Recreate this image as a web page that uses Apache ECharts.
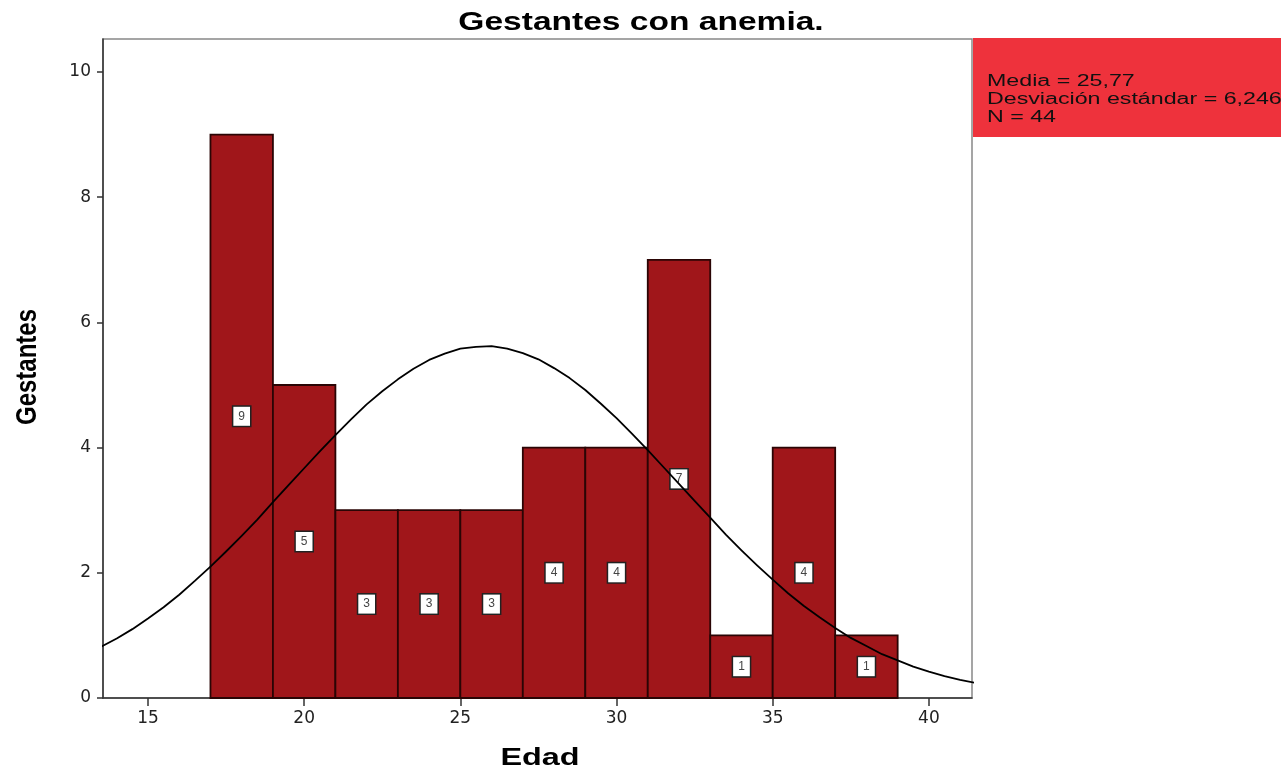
<!DOCTYPE html>
<html>
<head>
<meta charset="utf-8">
<script src="https://cdn.jsdelivr.net/npm/echarts@6/dist/echarts.min.js"></script>
<style>
  html, body { margin: 0; padding: 0; background: #fff; }
  #chart { width: 1281px; height: 771px; }
</style>
</head>
<body>
<div id="chart"></div>
<script>
// histogram bins (start of each bin, width 2 years)
const binStart = [17, 19, 21, 23, 25, 27, 29, 31, 33, 35, 37];
const counts = [9, 5, 3, 3, 3, 4, 4, 7, 1, 4, 1];
const binWidth = 2;

// normal curve, every half year
const curveX = [13.5, 14, 14.5, 15, 15.5, 16, 16.5, 17, 17.5, 18, 18.5, 19, 19.5, 20, 20.5, 21, 21.5, 22, 22.5, 23, 23.5, 24, 24.5, 25, 25.5, 26, 26.5, 27, 27.5, 28, 28.5, 29, 29.5, 30, 30.5, 31, 31.5, 32, 32.5, 33, 33.5, 34, 34.5, 35, 35.5, 36, 36.5, 37, 37.5, 38, 38.5, 39, 39.5, 40, 40.5, 41, 41.5];
const curveY = [0.82, 0.95, 1.10, 1.27, 1.45, 1.65, 1.87, 2.10, 2.34, 2.59, 2.85, 3.13, 3.40, 3.67, 3.94, 4.20, 4.45, 4.69, 4.90, 5.09, 5.26, 5.40, 5.50, 5.58, 5.61, 5.62, 5.58, 5.51, 5.41, 5.27, 5.11, 4.92, 4.70, 4.47, 4.22, 3.96, 3.69, 3.42, 3.15, 2.88, 2.61, 2.36, 2.12, 1.89, 1.67, 1.47, 1.29, 1.12, 0.96, 0.83, 0.70, 0.60, 0.50, 0.42, 0.35, 0.29, 0.24];

const xTicks = [15, 20, 25, 30, 35, 40];
const yTicks = [0, 2, 4, 6, 8, 10];
const titleText = 'Gestantes con anemia.';
const xName = 'Edad';
const yName = 'Gestantes';
const statsLines = ['Media = 25,77', 'Desviación estándar = 6,246', 'N = 44'];

const chart = echarts.init(document.getElementById('chart'));

const font = 'Liberation Sans, Arial, sans-serif';
const tickFont = 'DejaVu Sans, sans-serif';

const option = {
  animation: false,
  backgroundColor: '#fff',
  grid: {
    left: 103,
    right: 309,
    top: 39,
    bottom: 73,
    outerBoundsMode: 'none',
    show: true,
    borderColor: '#888',
    borderWidth: 1.5,
    backgroundColor: '#fff'
  },
  xAxis: {
    type: 'value',
    min: 13.56,
    max: 41.38,
    splitLine: { show: false },
    axisLine: { show: true, lineStyle: { color: '#333', width: 1.5 } },
    axisTick: { show: true, customValues: xTicks, length: 8, lineStyle: { color: '#333', width: 1.5 } },
    axisLabel: { customValues: xTicks, fontFamily: tickFont, fontSize: 17, color: '#222', margin: 12 }
  },
  yAxis: {
    type: 'value',
    min: 0,
    max: 10.527,
    splitLine: { show: false },
    axisLine: { show: true, lineStyle: { color: '#333', width: 1.5 } },
    axisTick: { show: true, customValues: yTicks, length: 6, lineStyle: { color: '#333', width: 1.5 } },
    axisLabel: { customValues: yTicks, fontFamily: tickFont, fontSize: 17, color: '#222', margin: 12 }
  },
  series: [
    {
      type: 'custom',
      data: binStart.map((s, i) => [s, counts[i]]),
      z: 2,
      renderItem: function (params, api) {
        const x0 = api.value(0);
        const cnt = api.value(1);
        const p0 = api.coord([x0, 0]);
        const p1 = api.coord([x0 + binWidth, cnt]);
        return {
          type: 'rect',
          shape: { x: p0[0], y: p1[1], width: p1[0] - p0[0], height: p0[1] - p1[1] },
          style: { fill: '#a0161a', stroke: '#2a0505', lineWidth: 1.8 },
          textContent: {
            style: {
              text: String(cnt),
              fontFamily: font,
              fontSize: 12,
              fill: '#444',
              backgroundColor: '#fff',
              borderColor: '#222',
              borderWidth: 1.5,
              padding: [4, 5, 3, 5]
            }
          },
          textConfig: { position: 'inside' }
        };
      }
    },
    {
      type: 'line',
      data: curveX.map((x, i) => [x, curveY[i]]),
      smooth: false,
      showSymbol: false,
      z: 3,
      lineStyle: { color: '#000', width: 1.8, join: 'round' }
    }
  ],
  graphic: [
    {
      type: 'text',
      x: 641,
      y: 23,
      scaleX: 1.29,
      style: {
        text: titleText,
        align: 'center',
        verticalAlign: 'middle',
        fontFamily: font,
        fontWeight: 'bold',
        fontSize: 26,
        fill: '#000'
      }
    },
    {
      type: 'text',
      x: 540,
      y: 758,
      scaleX: 1.35,
      style: {
        text: xName,
        align: 'center',
        verticalAlign: 'middle',
        fontFamily: font,
        fontWeight: 'bold',
        fontSize: 24,
        fill: '#000'
      }
    },
    {
      type: 'text',
      x: 28,
      y: 367,
      rotation: Math.PI / 2,
      scaleY: 1.2,
      style: {
        text: yName,
        align: 'center',
        verticalAlign: 'middle',
        fontFamily: font,
        fontWeight: 'bold',
        fontSize: 24,
        fill: '#000'
      }
    },
    {
      type: 'rect',
      left: 973,
      top: 38,
      shape: { width: 308, height: 99 },
      style: { fill: '#ee323c' }
    },
    {
      type: 'text',
      x: 987,
      y: 73,
      scaleX: 1.45,
      style: {
        text: statsLines.join('\n'),
        fontFamily: font,
        fontSize: 16,
        lineHeight: 18,
        fill: '#111'
      }
    }
  ]
};

chart.setOption(option);
</script>
</body>
</html>
